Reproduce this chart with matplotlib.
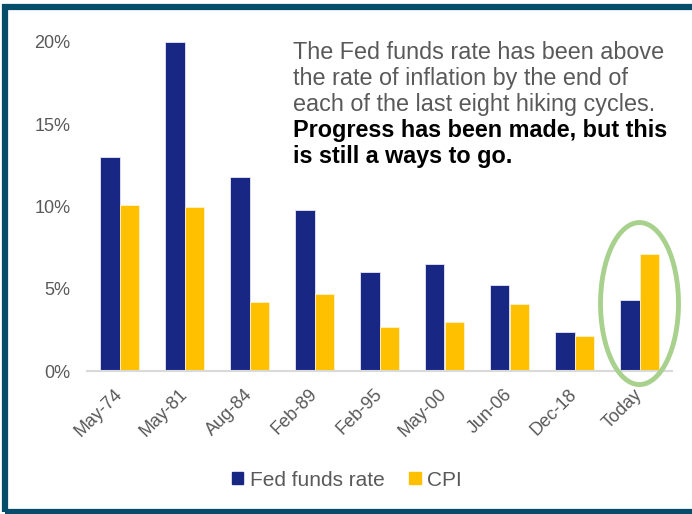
import matplotlib
matplotlib.use("Agg")
import matplotlib.pyplot as plt
from matplotlib.patches import Ellipse, Rectangle, Patch
from matplotlib.ticker import FuncFormatter

plt.rcParams["font.family"] = ["Liberation Sans", "DejaVu Sans"]

categories = ["May-74", "May-81", "Aug-84", "Feb-89", "Feb-95",
              "May-00", "Jun-06", "Dec-18", "Today"]
fed_funds = [13.0, 20.0, 11.8, 9.8, 6.0, 6.5, 5.25, 2.4, 4.33]
cpi = [10.1, 10.0, 4.2, 4.7, 2.7, 3.0, 4.1, 2.1, 7.1]
y_ticks = [0, 5, 10, 15, 20]

navy = "#172783"
gold = "#FFC000"
grey = "#595959"

fig = plt.figure(figsize=(6.92, 5.14), dpi=100)
ax = fig.add_axes([87 / 692, 1 - 371 / 514, 585 / 692, 329 / 514])

x = list(range(len(categories)))
w = 0.3
ax.bar([i - w / 2 for i in x], fed_funds, width=w, color=navy,
       edgecolor="#E8E8F0", linewidth=0.6, label="Fed funds rate", zorder=2)
ax.bar([i + w / 2 for i in x], cpi, width=w, color=gold,
       edgecolor="#FFF2CC", linewidth=0.6, label="CPI", zorder=2)

ax.set_xlim(-0.5, 8.5)
ax.set_ylim(0, 20)
ax.set_yticks(y_ticks)
ax.yaxis.set_major_formatter(FuncFormatter(lambda v, _: f"{v:.0f}%"))
ax.set_xticks(x)
ax.set_xticklabels(categories, rotation=45, ha="right", va="center",
                   rotation_mode="anchor")
ax.tick_params(axis="both", length=0, colors=grey, labelsize=13)
ax.tick_params(axis="y", pad=12)
ax.tick_params(axis="x", pad=15)
for side in ("top", "right", "left"):
    ax.spines[side].set_visible(False)
ax.spines["bottom"].set_color("#D9D9D9")
ax.spines["bottom"].set_linewidth(1.5)

# Highlight the current cycle
ax.add_patch(Ellipse((8.0, 4.1), 1.2, 9.85, fill=False, edgecolor="#A9D18E",
                     linewidth=3.5, clip_on=False, zorder=3))

# Commentary, one line at a time
plain_lines = ["The Fed funds rate has been above",
               "the rate of inflation by the end of",
               "each of the last eight hiking cycles."]
bold_lines = ["Progress has been made, but this",
              "is still a ways to go."]
x0 = 293 / 692
for k, line in enumerate(plain_lines + bold_lines):
    base = 59 + 26 * k
    bold = k >= len(plain_lines)
    fig.text(x0, 1 - base / 514, line, fontsize=16.8,
             color="black" if bold else grey,
             fontweight="bold" if bold else "normal",
             va="baseline", ha="left")

handles = [Patch(color=navy, label="Fed funds rate"),
           Patch(color=gold, label="CPI")]
fig.legend(handles=handles, loc="center", bbox_to_anchor=(347 / 692, 1 - 480 / 514),
           ncol=2, frameon=False, fontsize=15, labelcolor=grey,
           handlelength=0.55, handleheight=0.55, handletextpad=0.3,
           columnspacing=1.2)

# Outer frame
fig.patches.append(Rectangle((5 / 692, 2.5 / 514), 700 / 692, 505 / 514,
                             transform=fig.transFigure, fill=False,
                             edgecolor="#054D6B", linewidth=4.5))

fig.savefig("out.png", dpi=100)
